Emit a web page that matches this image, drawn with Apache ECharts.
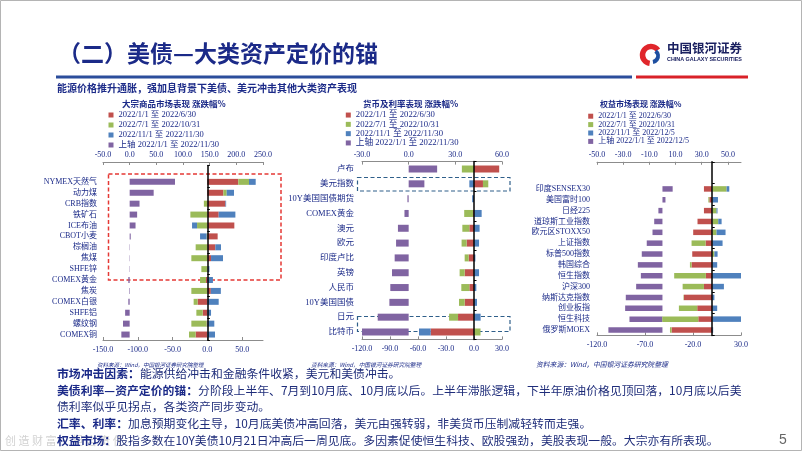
<!DOCTYPE html>
<html><head><meta charset="utf-8">
<script src="https://cdn.jsdelivr.net/npm/echarts@6/dist/echarts.min.js"></script>
<style>html,body{margin:0;padding:0;background:#fff}#c{width:802px;height:451px}</style>
</head><body><div id="c"></div>
<script>
// ---------- data ----------
const cat1 = ['NYMEX天然气','动力煤','CRB指数','铁矿石','ICE布油','CBOT小麦','棕榈油','焦煤','SHFE锌','COMEX黄金','焦炭','COMEX白银','SHFE铝','螺纹钢','COMEX铜'];
const c1Ytd    = [85, 45, 18.5, 14, 11, 2, 0.6, 0.6, -0.6, -2.5, -1, -2.5, -8.5, -12.5, -15.6];
const c1H1     = [44.5, 23, 26, 16.3, 38.8, 14.8, 11.5, 5.3, 0.5, -2, 5, -14, -6.7, -1, -16.8];
const c1JulOct = [15.4, 4.8, -5, -24.4, -14.8, -1, -16.8, -23, -8.6, -8.5, -23, -5.7, -9.1, -22, -9.6];
const c1Nov    = [9.6, 10.5, 1, 24, -7.2, -9.5, 8.1, 17.2, 2.5, 8, 14.4, 16.3, 5.3, 10, 11];
const c1TopTicks = [-50, 0, 50, 100, 150, 200, 250];
const c1BotTicks = [-150, -100, -50, 0, 50];

const cat2 = ['卢布','美元指数','10Y美国国债期货','COMEX黄金','澳元','欧元','印度卢比','英镑','人民币','10Y美国国债','日元','比特币'];
const c2Ytd    = [18.3, 10.1, -0.8, -2.7, -6.9, -8.1, -9, -10.7, -11.8, -12.4, -19.9, -30];
const c2H1     = [27, 9.6, 0, -1, -5, -7.9, -5.7, -10, -5, -10, -17.1, -46.4];
const c2JulOct = [-13, 5.7, 0, -9.5, -7.5, -5.4, -4.3, -5.4, -8.6, -6.1, -9.6, 7];
const c2Nov    = [0, -5, -2, 8.2, 6, 5.4, 1.5, 5.4, 2.5, 3.2, 7.1, -12.5];
const c2TopTicks = [-30, 0, 30, 60];
const c2BotTicks = [-120, -90, -60, -30, 0, 30];

const cat3 = ['印度SENSEX30','美国富时100','日经225','道琼斯工业指数','欧元区STOXX50','上证指数','标普500指数','韩国综合','恒生指数','沪深300','纳斯达克指数','创业板指','恒生科技','俄罗斯MOEX'];
const c3Ytd    = [7.8, 2.3, -3.1, -6.3, -7.6, -12, -15.8, -18.8, -16.5, -20.1, -28, -28.5, -25.2, -41.3];
const c3H1     = [-8.6, -3, -8.6, -15.3, -19.8, -6.9, -20.8, -21.5, -6.6, -8.6, -29.5, -15.6, -14.5, -42.3];
const c3JulOct = [15, -1, 4.5, 6.3, 4.5, -14.6, 2.3, -1.7, -33, -22.2, -0.4, -19.1, -37.5, -1.7];
const c3Nov    = [2.8, 6, 1, 3.5, 9.4, 10.8, 3.3, 5.2, 30, 12.2, 2.3, 5.2, 30, 1];
const c3TopTicks = [-50, -30, -10, 10, 30, 50];
const c3BotTicks = [-120, -70, -20, 30];

const nRed = '2022/1/1 至 2022/6/30';
const nGreen = '2022/7/1 至 2022/10/31';
const nBlue = '2022/11/1 至 2022/11/30';
const nPurple = '上轴 2022/1/1 至 2022/11/30';
const nBlue3 = '2022/11/1 至 2022/12/5';
const nPurple3 = '上轴 2022/1/1 至 2022/12/5';

// ---------- styles ----------
const NAVY = '#1B2A88';
const C_RED = '#C0504D', C_GREEN = '#9BBB59', C_BLUE = '#4F81BD', C_PURPLE = '#8064A2';
const SERIF = "'Liberation Serif','Noto Sans CJK SC',serif";
const CJK = "'Noto Sans CJK SC','Noto Sans',sans-serif";

const panels = [
  {cats: cat1, blanks: 1, ytd: c1Ytd, h1: c1H1, jo: c1JulOct, nov: c1Nov,
   names: [nRed, nGreen, nBlue, nPurple],
   grid: [103, 165.5, 160, 174.5],
   top: {min: -50, max: 250, interval: 50, ticks: c1TopTicks, offset: 3.5},
   bot: {min: -150, max: 80, interval: 50, ticks: c1BotTicks},
   bw: 6, fs: 8, lm: 6, lg: [108.5, 110, 8.5, 10]},
  {cats: cat2, blanks: 0, ytd: c2Ytd, h1: c2H1, jo: c2JulOct, nov: c2Nov,
   names: [nRed, nGreen, nBlue, nPurple],
   grid: [362, 161.6, 140, 177.8],
   top: {min: -30, max: 60, interval: 30, ticks: c2TopTicks, offset: 0},
   bot: {min: -120, max: 30, interval: 30, ticks: c2BotTicks},
   bw: 7, fs: 8.5, lm: 8, lg: [345.8, 110.4, 8.7, 9.3]},
  {cats: cat3, blanks: 2, ytd: c3Ytd, h1: c3H1, jo: c3JulOct, nov: c3Nov,
   names: [nRed, nGreen, nBlue3, nPurple3],
   grid: [597, 161.8, 144, 173.6],
   top: {min: -50, max: 60, interval: 10, ticks: c3TopTicks, offset: 0},
   bot: {min: -120, max: 30, interval: 10, ticks: c3BotTicks},
   bw: 5.5, fs: 8, lm: 7, lg: [588.2, 112, 8, 8.4]}
];

const grids = [], xAxes = [], yAxes = [], series = [], legends = [];
panels.forEach((p, i) => {
  const cats = Array(p.blanks).fill('').concat(p.cats);
  const pad = arr => Array(p.blanks).fill(null).concat(arr);
  grids.push({left: p.grid[0], top: p.grid[1], width: p.grid[2], height: p.grid[3]});
  const mkX = (cfg, pos, margin) => ({
    gridIndex: i, type: 'value', position: pos, min: cfg.min, max: cfg.max, interval: cfg.interval,
    offset: cfg.offset || 0,
    axisLine: {show: true, onZero: false, lineStyle: {color: '#8c8c8c', width: 1}},
    axisTick: {show: true, inside: true, length: 3, customValues: cfg.ticks, lineStyle: {color: '#8c8c8c'}},
    axisLabel: {fontSize: 8, color: NAVY, fontFamily: SERIF, margin: margin, customValues: cfg.ticks,
      formatter: v => cfg.ticks.indexOf(v) >= 0 ? v.toFixed(1) : ''},
    splitLine: {show: false}
  });
  xAxes.push(mkX(p.top, 'top', 3));
  xAxes.push(mkX(p.bot, 'bottom', 6));
  yAxes.push({gridIndex: i, type: 'category', data: cats, inverse: true, position: 'left',
    axisLine: {show: false, onZero: false}, axisTick: {show: false},
    axisLabel: {fontSize: p.fs, color: NAVY, fontFamily: SERIF, margin: p.lm}, splitLine: {show: false}});
  yAxes.push({gridIndex: i, type: 'category', data: cats, inverse: true, position: 'left', z: 5,
    axisLine: {show: true, onZero: true, onZeroAxisIndex: 2 * i + 1, lineStyle: {color: '#000', width: 1.5}},
    axisTick: {show: true, inside: true, length: 2.5, lineStyle: {color: '#000'}},
    axisLabel: {show: false}, splitLine: {show: false}});
  series.push({type: 'bar', name: p.names[3], xAxisIndex: 2 * i, yAxisIndex: 2 * i, data: pad(p.ytd),
    barWidth: p.bw, barGap: '-100%', itemStyle: {color: C_PURPLE}, silent: true});
  [[p.names[0], p.h1, C_RED], [p.names[1], p.jo, C_GREEN], [p.names[2], p.nov, C_BLUE]].forEach(([n, d, c]) => {
    series.push({type: 'bar', name: n, stack: 'stk' + i, xAxisIndex: 2 * i + 1, yAxisIndex: 2 * i, data: pad(d),
      barWidth: p.bw, barGap: '-100%', itemStyle: {color: c}, silent: true});
  });
  legends.push({left: p.lg[0], top: p.lg[1], orient: 'vertical', itemWidth: 5, itemHeight: 5, itemGap: 0,
    padding: 0, icon: 'rect', selectedMode: false, data: [p.names[0], p.names[1], p.names[2], p.names[3]],
    textStyle: {fontSize: p.lg[2], lineHeight: p.lg[3], color: NAVY, fontFamily: SERIF, padding: 0}});
});

// ---------- slide graphics ----------
const T = (text, x, y, font, fill, extra) => Object.assign({type: 'text', z: 10, silent: true,
  style: {text: text, x: x, y: y, font: font, fill: fill, verticalAlign: 'middle', align: 'left'}}, extra || {});
const graphic = [
  {type: 'rect', z: 0, silent: true, shape: {x: 0.5, y: 0.5, width: 801, height: 450}, style: {fill: 'none', stroke: '#b4b4b4', lineWidth: 1}},
  T('（二）美债—大类资产定价的锚', 58, 53, 'bold 23px ' + CJK, '#1B2A88'),
  {type: 'rect', z: 1, silent: true, shape: {x: 56, y: 75.5, width: 576, height: 3}, style: {fill: '#2B4D9B'}},
  {type: 'rect', z: 1, silent: true, shape: {x: 636, y: 75.5, width: 112, height: 3}, style: {fill: '#D92128'}},
  {type: 'arc', z: 10, silent: true, shape: {cx: 651, cy: 55, r: 8.5, startAngle: Math.PI * 0.55, endAngle: Math.PI * 1.8}, style: {stroke: '#E0262B', lineWidth: 5.5, fill: 'none'}},
  {type: 'arc', z: 10, silent: true, shape: {cx: 652, cy: 56, r: 6, startAngle: -Math.PI * 0.3, endAngle: Math.PI * 0.45}, style: {stroke: '#1E4FA0', lineWidth: 4, fill: 'none'}},
  T('中国银河证券', 667, 48, 'bold 12.5px ' + CJK, '#1a2060'),
  T('CHINA GALAXY SECURITIES', 667, 59.5, 'bold 5.4px "Liberation Sans"', '#1a2060'),
  T('能源价格推升通胀，强加息背景下美债、美元冲击其他大类资产表现', 57, 88, 'bold 10px ' + CJK, NAVY),
  T('大宗商品市场表现 涨跌幅%', 122, 104, 'bold 8.5px ' + CJK, NAVY),
  T('货币及利率表现 涨跌幅%', 363, 104, 'bold 8.5px ' + CJK, NAVY),
  T('权益市场表现 涨跌幅%', 600, 104, 'bold 8px ' + CJK, NAVY),
  {type: 'rect', z: 1, silent: true, shape: {x: 108.5, y: 174, width: 172.5, height: 106}, style: {fill: 'none', stroke: '#E53935', lineWidth: 1.5, lineDash: [4, 2.5]}},
  {type: 'rect', z: 1, silent: true, shape: {x: 357.5, y: 177.5, width: 152.5, height: 13.5}, style: {fill: 'none', stroke: '#2F5F8A', lineWidth: 1.2, lineDash: [4, 2.5]}},
  {type: 'rect', z: 1, silent: true, shape: {x: 357.5, y: 316.5, width: 152.5, height: 15}, style: {fill: 'none', stroke: '#2F5F8A', lineWidth: 1.2, lineDash: [4, 2.5]}},
  T('资料来源：Wind，中国银河证券研究院整理', 97, 364.5, 'italic 5.5px ' + CJK, NAVY),
  T('资料来源：Wind，中国银河证券研究院整理', 311, 364.5, 'italic 5.7px ' + CJK, NAVY),
  T('资料来源：Wind，中国银河证券研究院整理', 536, 364.5, 'italic 6.8px ' + CJK, NAVY),
  T('创 造 财 富 · 担 当 责 任', 5, 441, '11px ' + CJK, '#d2d2d2', {z: 5}),
  T('5', 779, 440, '14px "Liberation Sans"', '#666666')
];
const bodyLines = [
  ['市场冲击因素：', '能源供给冲击和金融条件收紧，美元和美债冲击。', 373],
  ['美债利率—资产定价的锚：', '分阶段上半年、7月到10月底、10月底以后。上半年滞胀逻辑，下半年原油价格见顶回落，10月底以后美', 390],
  ['', '债利率似乎见拐点，各类资产同步变动。', 406],
  ['汇率、利率：', '加息预期变化主导，10月底美债冲高回落，美元由强转弱，非美货币压制减轻转而走强。', 423],
  ['权益市场：', '股指多数在10Y美债10月21日冲高后一周见底。多因素促使恒生科技、欧股强劲，美股表现一般。大宗亦有所表现。', 440]
];
bodyLines.forEach(([b, n, y]) => {
  graphic.push({type: 'text', z: 10, silent: true, style: {
    text: (b ? '{b|' + b + '}' : '') + '{n|' + n + '}', x: 57, y: y, verticalAlign: 'middle',
    rich: {b: {fontSize: 11.85, fontWeight: 'bold', fontFamily: CJK, fill: '#1B2A88'},
           n: {fontSize: 11.85, fontFamily: CJK, fill: '#1F2D7A'}}}});
});

const chart = echarts.init(document.getElementById('c'), null, {renderer: 'canvas'});
chart.setOption({
  animation: false,
  backgroundColor: '#ffffff',
  grid: grids, xAxis: xAxes, yAxis: yAxes, series: series, legend: legends,
  graphic: graphic
});
</script>
</body></html>
